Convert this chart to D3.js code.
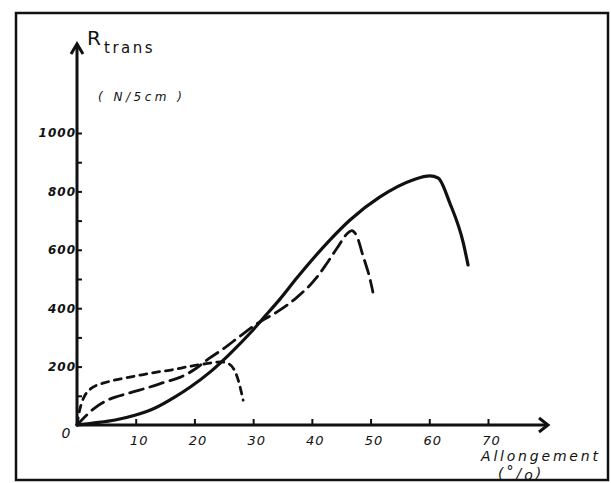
<!DOCTYPE html>
<html>
<head>
<meta charset="utf-8">
<script src="https://cdn.jsdelivr.net/npm/d3@7"></script>
<style>
  body { margin: 0; background: #fff; }
  svg { display: block; }
</style>
</head>
<body>
<div id="chart"></div>
<script>
// values
var xTicks = [10, 20, 30, 40, 50, 60, 70];
var yTicks = [100, 200, 300, 400, 500, 600, 700, 800, 900, 1000];
var yLabels = [200, 400, 600, 800, 1000];

// solid curve
var solidX = [0, 3, 6.5, 10, 13.3, 16.7, 19.3, 22.7, 26, 29.5, 32, 34.6, 37.5, 43.1, 46.5, 51.6, 57.2, 60.1, 61.5, 63.5, 65.8, 66.6];
var solidY = [0, 7, 17, 34, 58, 96, 130, 182, 243, 315, 372, 432, 505, 634, 702, 781, 839, 853, 846, 760, 623, 548];

// short dashes, early peak
var shortX = [0, 0.5, 2.2, 5.3, 8.2, 11.1, 13.8, 16.2, 19, 22, 24.5, 25.8, 27.3, 28.3];
var shortY = [0, 55, 122, 148, 161, 172, 182, 189, 200, 210, 216, 210, 164, 85];

// long dashes, peak near 46 %
var longX = [0, 3, 5.3, 9, 12.4, 15, 17.5, 20, 22.5, 25, 27.5, 30.5, 34.6, 37.5, 40.9, 42.6, 44.3, 46, 46.8, 47.7, 48.7, 49.9, 50.4];
var longY = [0, 58, 86, 110, 130, 147, 163, 190, 228, 262, 300, 345, 394, 438, 507, 555, 606, 655, 666, 645, 580, 500, 455];

var width = 611, height = 483;

var svg = d3.select("#chart")
    .append("svg")
    .attr("width", width)
    .attr("height", height);

// frame
svg.append("rect")
    .attr("x", 16)
    .attr("y", 13)
    .attr("width", 592)
    .attr("height", 467)
    .attr("fill", "none")
    .attr("stroke", "#111")
    .attr("stroke-width", 2.5);

var x = d3.scaleLinear()
    .domain([0, 70])
    .range([77, 488]);

var y = d3.scaleLinear()
    .domain([0, 1000])
    .range([425, 133]);

// x ticks (pointing up) + labels
svg.append("g")
    .attr("transform", "translate(0," + y(0) + ")")
    .call(d3.axisBottom(x).tickValues(xTicks).tickSizeInner(-6).tickSizeOuter(0).tickPadding(11))
    .call(function (g) { g.select(".domain").remove(); })
    .call(function (g) {
        g.selectAll(".tick line").attr("stroke", "#111").attr("stroke-width", 2);
        g.selectAll(".tick text")
            .attr("dx", 3)
            .style("font-family", "DejaVu Sans, sans-serif")
            .style("font-style", "italic")
            .style("font-size", "13px")
            .style("letter-spacing", "1px")
            .attr("fill", "#111");
    });

// y ticks (pointing right)
svg.append("g")
    .attr("transform", "translate(" + x(0) + ",0)")
    .call(d3.axisLeft(y).tickValues(yTicks).tickSizeInner(-5).tickSizeOuter(0).tickPadding(1)
        .tickFormat(function (d) { return yLabels.indexOf(d) >= 0 ? d : ""; }))
    .call(function (g) { g.select(".domain").remove(); })
    .call(function (g) {
        g.selectAll(".tick line").attr("stroke", "#111").attr("stroke-width", 2);
        g.selectAll(".tick text")
            .style("font-family", "DejaVu Sans, sans-serif")
            .style("font-style", "italic")
            .style("font-weight", "bold")
            .style("font-size", "12px")
            .style("letter-spacing", "1px")
            .attr("fill", "#111");
    });

// axis lines with arrow heads
svg.append("line")
    .attr("x1", x(0)).attr("y1", y(0))
    .attr("x2", 548).attr("y2", y(0))
    .attr("stroke", "#111").attr("stroke-width", 3);
svg.append("path")
    .attr("d", "M539," + (y(0) - 7) + "L548," + y(0) + "L539," + (y(0) + 7))
    .attr("fill", "none").attr("stroke", "#111").attr("stroke-width", 3);

svg.append("line")
    .attr("x1", x(0)).attr("y1", y(0))
    .attr("x2", x(0)).attr("y2", 44)
    .attr("stroke", "#111").attr("stroke-width", 3);
svg.append("path")
    .attr("d", "M" + (x(0) - 6) + ",54L" + x(0) + ",44L" + (x(0) + 6) + ",54")
    .attr("fill", "none").attr("stroke", "#111").attr("stroke-width", 3);

// curves
var line = d3.line()
    .x(function (d) { return x(d[0]); })
    .y(function (d) { return y(d[1]); })
    .curve(d3.curveMonotoneX);

var series = [
    { xs: solidX, ys: solidY, dash: null, w: 3.2 },
    { xs: shortX, ys: shortY, dash: "7,6", w: 2.8 },
    { xs: longX, ys: longY, dash: "14,7", w: 2.8 }
];

series.forEach(function (s) {
    var pts = s.xs.map(function (v, i) { return [v, s.ys[i]]; });
    svg.append("path")
        .datum(pts)
        .attr("d", line)
        .attr("fill", "none")
        .attr("stroke", "#111")
        .attr("stroke-width", s.w)
        .attr("stroke-linecap", "round")
        .style("stroke-dasharray", s.dash);
});

// origin label
svg.append("text")
    .attr("x", 66)
    .attr("y", 438)
    .attr("text-anchor", "middle")
    .style("font-family", "DejaVu Sans, sans-serif")
    .style("font-style", "italic")
    .style("font-size", "14px")
    .attr("fill", "#111")
    .text("0");

// y title
var title = svg.append("text")
    .attr("x", 87)
    .attr("y", 45)
    .style("font-family", "DejaVu Sans, sans-serif")
    .attr("fill", "#111");
title.append("tspan")
    .style("font-size", "20px")
    .text("R");
title.append("tspan")
    .attr("x", 104)
    .attr("y", 53)
    .style("font-size", "15px")
    .style("letter-spacing", "2.5px")
    .text("trans");

svg.append("text")
    .attr("x", 98)
    .attr("y", 101)
    .style("font-family", "DejaVu Sans, sans-serif")
    .style("font-style", "italic")
    .style("font-size", "12px")
    .style("letter-spacing", "3.5px")
    .attr("fill", "#111")
    .text("( N/5cm )");

// x title
svg.append("text")
    .attr("x", 481)
    .attr("y", 461)
    .style("font-family", "DejaVu Sans, sans-serif")
    .style("font-style", "italic")
    .style("font-size", "14px")
    .style("letter-spacing", "2.8px")
    .attr("fill", "#111")
    .text("Allongement");

var unit = svg.append("text")
    .attr("x", 498)
    .attr("y", 478)
    .style("font-family", "DejaVu Sans, sans-serif")
    .style("font-style", "italic")
    .style("font-size", "14px")
    .style("letter-spacing", "3px")
    .attr("fill", "#111");
unit.append("tspan").text("(");
unit.append("tspan").attr("dy", -2).text("°");
unit.append("tspan").attr("dy", 2).text("/");
unit.append("tspan").attr("dy", 2).text("o");
unit.append("tspan").attr("dy", -2).text(")");
</script>
</body>
</html>
